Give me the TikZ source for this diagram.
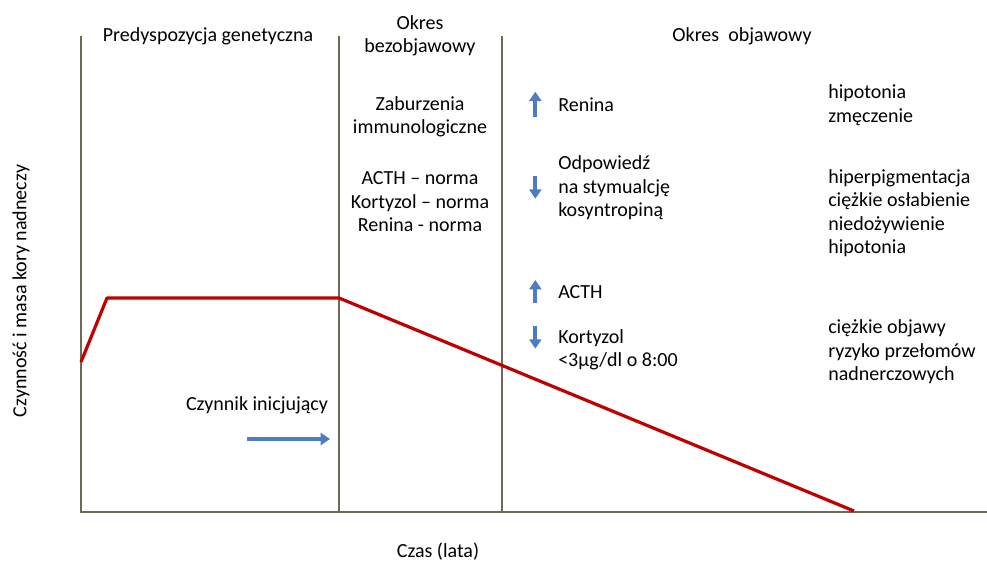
\documentclass[tikz,border=0pt]{standalone}
\usepackage{fontspec}
\setmainfont{Carlito}
\usetikzlibrary{arrows.meta}
\definecolor{axisgray}{RGB}{110,104,88}
\definecolor{curvered}{RGB}{192,0,0}
\definecolor{arrowblue}{RGB}{79,124,192}

\begin{document}
\begin{tikzpicture}[x=0.75pt, y=-0.75pt, font=\fontsize{15}{17.6}\selectfont,
  axis/.style={draw=axisgray, line width=0.9pt},
  curve/.style={draw=curvered, line width=2.4pt, line join=round},
  mid/.style={inner sep=0pt, align=center},
  lst/.style={inner sep=0pt, align=left, anchor=west},
  bluearr/.style={draw=arrowblue, line width=3pt, -{Triangle[width=9pt,length=7pt]}},]
    \useasboundingbox (0,0) rectangle (987,564);
    % axes and period borders
    \coordinate (top) at (81,36);
    \coordinate (orig) at (81,512);
    \coordinate (xend) at (987,512);
    \coordinate (b1top) at (339,36);
    \coordinate (b1bot) at (339,512);
    \coordinate (b2top) at (502,36);
    \coordinate (b2bot) at (502,512);
    \draw[axis] (top) -- (orig) -- (xend);
    \draw[axis] (b1top) -- (b1bot);
    \draw[axis] (b2top) -- (b2bot);
    \node[rotate=90, inner sep=0pt] (ylab) at (21,291) {Czynność i masa kory nadneczy};
    \node[inner sep=0pt] (xlab) at (438,552) {Czas (lata)};
    % headings
    \node[mid] (gen) at (208,36) {Predyspozycja genetyczna};
    \node[mid] (bez) at (420,36) {Okres\\bezobjawowy};
    \node[mid] (obj) at (742,36) {Okres\ \ objawowy};
    % asymptomatic period
    \node[mid] (immu) at (420,117) {Zaburzenia\\immunologiczne};
    \node[mid] (norm) at (420,202) {ACTH -- norma\\Kortyzol -- norma\\Renina - norma};
    % symptomatic period
    \node[lst] (ren) at (558,105) {Renina};
    \node[lst] (odp) at (558,188) {Odpowiedź\\na stymualcję\\kosyntropiną};
    \node[lst] (acth) at (558,292) {ACTH};
    \node[lst] (kort) at (558,350) {Kortyzol\\<3µg/dl o 8:00};
    \node[lst] (hipo) at (828,105) {hipotonia\\zmęczenie};
    \node[lst] (hiper) at (828,213) {hiperpigmentacja\\ciężkie osłabienie\\niedożywienie\\hipotonia};
    \node[lst] (ciez) at (828,352) {ciężkie objawy\\ryzyko przełomów\\nadnerczowych};
    \draw[bluearr] ([xshift=-17pt, yshift=-9pt]ren.west) -- ++(0,19pt);
    \draw[bluearr] ([xshift=-17pt, yshift=9pt]odp.west) -- ++(0,-17pt);
    \draw[bluearr] ([xshift=-17pt, yshift=-8pt]acth.west) -- ++(0,17pt);
    \draw[bluearr] ([xshift=-17pt, yshift=18pt]kort.west) -- ++(0,-17pt);
    % curve
    \draw[curve] (orig |- 0,362) -- (107,298) -- (b1top |- 0,298) -- (854,511);
    \node[inner sep=0pt] (czyn) at (257,405) {Czynnik inicjujący};
    \coordinate (inA) at (247,439);
    \coordinate (inB) at (330,439);
    \draw[bluearr, line width=2.6pt] (inA) -- (inB);
\end{tikzpicture}
\end{document}
